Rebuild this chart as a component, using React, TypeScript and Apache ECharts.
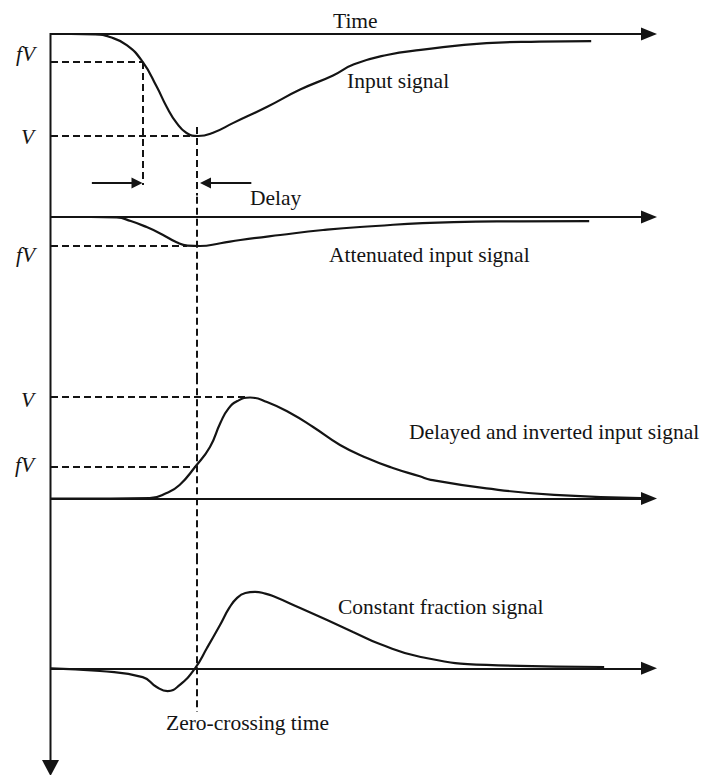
import React, { useEffect, useRef } from "react";
import * as echarts from "echarts";

// ---- data (time in ns, amplitude in units of V) ----
const timeRange = [0, 60];

const inputSignal = [
  [0, 0], [2, 0], [4.4, -0.004], [5.9, -0.03], [7.6, -0.11], [9.2, -0.277],
  [10.6, -0.52], [11.6, -0.72], [12.6, -0.88], [13.6, -0.98], [14.75, -1.01],
  [16.2, -0.98], [18.3, -0.88], [21.7, -0.72], [25.0, -0.55], [28.3, -0.41],
  [30.4, -0.3], [33.7, -0.208], [37.1, -0.158], [43.7, -0.09], [49.0, -0.075],
  [54.2, -0.07],
];

const attenuatedSignal = [
  [0, 0], [4, 0], [6.6, -0.005], [8.0, -0.04], [9.6, -0.1], [11.2, -0.175],
  [12.6, -0.25], [13.7, -0.283], [14.95, -0.287], [17, -0.26], [19, -0.228],
  [23, -0.178], [27.3, -0.129], [31, -0.099], [40.4, -0.05], [47, -0.043],
  [54, -0.04],
];

const delayedInvertedSignal = [
  [0, 0], [6, 0], [9.9, 0.003], [11.6, 0.054], [12.9, 0.134], [14.45, 0.312],
  [15.95, 0.51], [17.0, 0.75], [17.8, 0.89], [18.7, 0.965], [19.97, 1.0],
  [21.67, 0.955], [24.0, 0.847], [26.3, 0.708], [29.0, 0.53], [31.7, 0.401],
  [34.3, 0.302], [37.0, 0.22], [38.1, 0.185], [43.7, 0.1], [50.5, 0.035],
  [59.2, 0.005],
];

const constantFractionSignal = [
  [0, 0], [4.9, -0.027], [9.2, -0.087], [10.6, -0.185], [11.7, -0.225],
  [12.9, -0.166], [14.45, 0], [15.65, 0.201], [16.96, 0.429], [17.9, 0.6],
  [18.7, 0.7], [19.5, 0.745], [20.47, 0.757], [21.5, 0.74], [22.27, 0.715],
  [25.0, 0.597], [27.7, 0.478], [30.3, 0.36], [33.0, 0.24], [37.1, 0.112],
  [43.7, 0.033], [55.5, 0.013],
];

// levels and times
const inputLevels = { fV: -0.277, V: -1.01, tFV: 9.2, tV: 14.75 };
const attenuatedLevels = { fV: -0.287, tFV: 13.65 };
const delayedLevels = { V: 1.01, fV: 0.312, tV: 19.5, tFV: 14.5 };
const zeroCrossingTime = 14.65;
const delayArrowLevel = -1.475;
const delayArrowRight = [4.1, 8.63];
const delayArrowLeft = [20.1, 15.5];

// y ranges of the four panels
const panelRanges = [
  [-1.6, 0.3],
  [-1.6, 0.2],
  [-0.6, 1.2],
  [-0.8, 1.1],
];
const zeroLineSpans = [
  [-0.92, -1.6],
  [0.2, -1.6],
  [1.2, -0.6],
  [1.1, -0.43],
];

const panelLabels = [
  "Input signal",
  "Attenuated input signal",
  "Delayed and inverted input signal",
  "Constant fraction signal",
];

// ---- layout ----
const PX_PER_V = 101;
const baselines = [34, 217, 498.5, 668.3];
const GRID_LEFT = 51;
const GRID_WIDTH = 598;
const INK = "#141414";
const SERIF = '"Liberation Serif", "Times New Roman", serif';

const dashStyle = { type: [7, 4], width: 2, color: INK };

function seg(a: number[], b: number[], extra: any = {}) {
  return [{ coord: a, ...extra }, { coord: b }];
}

function buildOption() {
  const grids = panelRanges.map((r, i) => ({
    left: GRID_LEFT,
    width: GRID_WIDTH,
    top: baselines[i] - r[1] * PX_PER_V,
    height: (r[1] - r[0]) * PX_PER_V,
  }));
  const xAxes = panelRanges.map((_, i) => ({
    type: "value",
    gridIndex: i,
    min: timeRange[0],
    max: timeRange[1],
    axisLine: {
      show: true,
      onZero: true,
      symbol: ["none", "triangle"],
      symbolSize: [13, 16],
      lineStyle: { color: INK, width: 2 },
    },
    axisTick: { show: false },
    axisLabel: { show: false },
    splitLine: { show: false },
  }));
  const yAxes = panelRanges.map((r, i) => ({
    type: "value",
    gridIndex: i,
    min: r[0],
    max: r[1],
    axisLine: { show: false },
    axisTick: { show: false },
    axisLabel: { show: false },
    splitLine: { show: false },
  }));

  const zeroLine = (i: number) =>
    seg([zeroCrossingTime, zeroLineSpans[i][0]], [zeroCrossingTime, zeroLineSpans[i][1]]);

  const curves = [inputSignal, attenuatedSignal, delayedInvertedSignal, constantFractionSignal];
  const markData = [
    [
      seg([0, inputLevels.fV], [inputLevels.tFV, inputLevels.fV]),
      seg([inputLevels.tFV, inputLevels.fV], [inputLevels.tFV, delayArrowLevel - 0.02]),
      seg([0, inputLevels.V], [inputLevels.tV, inputLevels.V]),
      zeroLine(0),
    ],
    [seg([0, attenuatedLevels.fV], [attenuatedLevels.tFV, attenuatedLevels.fV]), zeroLine(1)],
    [
      seg([0, delayedLevels.V], [delayedLevels.tV, delayedLevels.V]),
      seg([0, delayedLevels.fV], [delayedLevels.tFV, delayedLevels.fV]),
      zeroLine(2),
    ],
    [zeroLine(3)],
  ];

  const series: any[] = curves.map((d, i) => ({
    type: "line",
    xAxisIndex: i,
    yAxisIndex: i,
    data: d,
    showSymbol: false,
    smooth: 0.5,
    lineStyle: { color: INK, width: 2.2 },
    silent: true,
    markLine: {
      silent: true,
      symbol: ["none", "none"],
      label: { show: false },
      lineStyle: dashStyle,
      emphasis: { disabled: true },
      data: markData[i],
    },
  }));

  const arrowSeries = (t: number[], rot: number) => ({
    type: "line",
    xAxisIndex: 0,
    yAxisIndex: 0,
    silent: true,
    showSymbol: true,
    lineStyle: { color: INK, width: 2 },
    itemStyle: { color: INK },
    data: [
      { value: [t[0], delayArrowLevel], symbol: "none" },
      { value: [t[1], delayArrowLevel], symbol: "triangle", symbolSize: [11, 11], symbolRotate: rot },
    ],
  });
  series.push(arrowSeries(delayArrowRight, -90));
  series.push(arrowSeries(delayArrowLeft, 90));

  const txt = (text: string, x: number, y: number, italic = false) => ({
    type: "text",
    x,
    y,
    silent: true,
    style: {
      text,
      fill: INK,
      fontFamily: SERIF,
      fontSize: 21.5,
      fontStyle: italic ? "italic" : "normal",
      textAlign: "left",
      textVerticalAlign: "middle",
    },
  });

  const graphic = [
    { type: "line", silent: true, shape: { x1: 50.5, y1: 33, x2: 50.5, y2: 762 }, style: { stroke: INK, lineWidth: 2 } },
    { type: "polygon", silent: true, shape: { points: [[42, 760], [59, 760], [50.5, 776]] }, style: { fill: INK } },
    txt("Time", 333, 21),
    txt(panelLabels[0], 347, 81),
    txt("Delay", 250, 198),
    txt(panelLabels[1], 329, 255),
    txt(panelLabels[2], 409, 432),
    txt(panelLabels[3], 338, 607),
    txt("Zero-crossing time", 166, 723),
    txt("fV", 16, 54, true),
    txt("V", 21, 137, true),
    txt("fV", 16, 255, true),
    txt("V", 21, 400, true),
    txt("fV", 15, 465, true),
  ];

  return {
    animation: false,
    backgroundColor: "#ffffff",
    grid: grids,
    xAxis: xAxes,
    yAxis: yAxes,
    series,
    graphic,
  };
}

export default function App() {
  const ref = useRef<HTMLDivElement>(null);
  useEffect(() => {
    const chart = echarts.init(ref.current!, null, { renderer: "svg" });
    chart.setOption(buildOption() as any);
    return () => chart.dispose();
  }, []);
  return (
    <div
      ref={ref}
      style={{ position: "fixed", left: 0, top: 0, width: 708, height: 775, background: "#fff" }}
    />
  );
}
